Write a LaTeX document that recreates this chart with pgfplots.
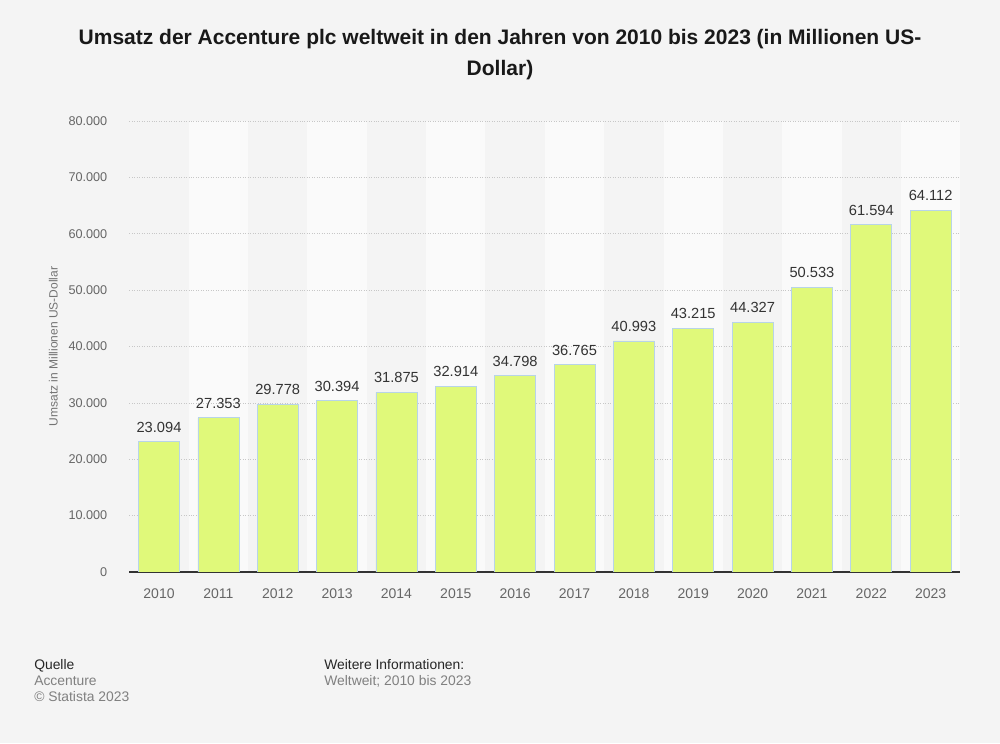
\documentclass[border=0pt]{standalone}
\usepackage{pgfplots}
\pgfplotsset{compat=1.18}
\usepackage{fontspec}
\setmainfont{Liberation Sans}
\definecolor{bg}{HTML}{F4F4F4}
\definecolor{stripe}{HTML}{FAFAFA}
\definecolor{barfill}{HTML}{E0F97A}
\definecolor{barline}{HTML}{B8D4E8}
\definecolor{ticktext}{HTML}{666666}
\definecolor{labeltext}{HTML}{333333}
\pagecolor{bg}
\begin{document}
\begin{tikzpicture}[x=0.75pt,y=0.75pt]
\path (0,0) rectangle (1000,743);
\node[font=\fontsize{15.75}{23.25}\selectfont\bfseries, align=center, text=black!90] at (500,688.5) {Umsatz der Accenture plc weltweit in den Jahren von 2010 bis 2023 (in Millionen US-\\Dollar)};
\begin{axis}[
  set layers,
  at={(97pt,128.25pt)}, anchor=south west,
  scale only axis, width=623.25pt, height=338.25pt,
  xmin=-0.5, xmax=13.5, ymin=0, ymax=80000,
  ybar, bar width=0.69,
  xtick={0,...,13},
  xticklabels={2010,2011,2012,2013,2014,2015,2016,2017,2018,2019,2020,2021,2022,2023},
  ytick={0,10000,...,80000},
  scaled y ticks=false,
  ymajorgrids, grid style={dash pattern=on 0.75pt off 1.1pt, color=black!22, line width=0.5pt},
  axis x line*=bottom, axis y line*=left,
  x axis line style={draw=black!80, line width=1.2pt, -},
  y axis line style={draw=none},
  major tick length=0pt,
  yticklabel style={font=\fontsize{9.5}{11}\selectfont, text=ticktext, xshift=-13pt, /pgf/number format/1000 sep={.}, /pgf/number format/assume math mode=true},
  xticklabel style={font=\fontsize{10.5}{12}\selectfont, text=ticktext, yshift=-9pt},
  ylabel={Umsatz in Millionen US-Dollar},
  every axis y label/.style={at={(axis description cs:-0.0915,0.5)}, rotate=90, anchor=center, font=\fontsize{9}{11}\selectfont, text=black!55},
  nodes near coords,
  every node near coord/.append style={font=\fontsize{11}{12}\selectfont, text=labeltext, yshift=3.5pt, /pgf/number format/1000 sep={.}, /pgf/number format/assume math mode=true},
]
\begin{pgfonlayer}{axis background}
\fill[stripe] (axis cs:0.5,0) rectangle (axis cs:1.5,80000);
\fill[stripe] (axis cs:2.5,0) rectangle (axis cs:3.5,80000);
\fill[stripe] (axis cs:4.5,0) rectangle (axis cs:5.5,80000);
\fill[stripe] (axis cs:6.5,0) rectangle (axis cs:7.5,80000);
\fill[stripe] (axis cs:8.5,0) rectangle (axis cs:9.5,80000);
\fill[stripe] (axis cs:10.5,0) rectangle (axis cs:11.5,80000);
\fill[stripe] (axis cs:12.5,0) rectangle (axis cs:13.5,80000);
\end{pgfonlayer}
\addplot[fill=barfill, draw=barline, line width=0.5pt] coordinates {
(0,23094) (1,27353) (2,29778) (3,30394) (4,31875) (5,32914) (6,34798)
(7,36765) (8,40993) (9,43215) (10,44327) (11,50533) (12,61594) (13,64112)};
\end{axis}
\node[inner sep=0pt, anchor=base west, font=\fontsize{10.4}{12}\selectfont, text=black!85] at (34,74) {Quelle};
\node[inner sep=0pt, anchor=base west, font=\fontsize{10.4}{12}\selectfont, text=black!50] at (34,57) {Accenture};
\node[inner sep=0pt, anchor=base west, font=\fontsize{10.4}{12}\selectfont, text=black!50] at (34,41) {\textcopyright\ Statista 2023};
\node[inner sep=0pt, anchor=base west, font=\fontsize{10.4}{12}\selectfont, text=black!85] at (324,74) {Weitere Informationen:};
\node[inner sep=0pt, anchor=base west, font=\fontsize{10.4}{12}\selectfont, text=black!50] at (324,57) {Weltweit; 2010 bis 2023};
\end{tikzpicture}
\end{document}
